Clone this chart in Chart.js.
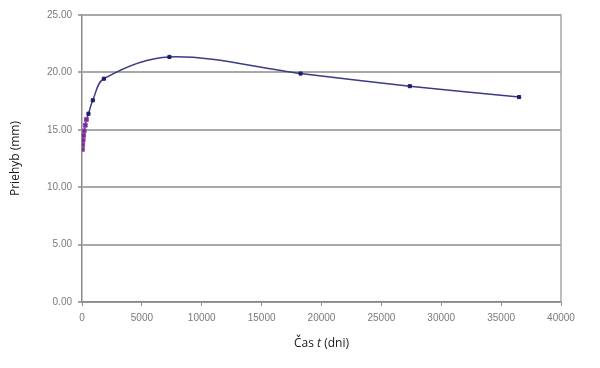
<!DOCTYPE html>
<html>
<head>
<meta charset="utf-8">
<script src="https://cdn.jsdelivr.net/npm/chart.js@4"></script>
<style>
html,body{margin:0;padding:0;background:#fff;}
#wrap{width:600px;height:368px;}
</style>
</head>
<body>
<div id="wrap"><canvas id="c" width="600" height="368"></canvas></div>
<script>
// Data
const days = [28, 56, 90, 120, 180, 270, 365, 540, 900, 1825, 7300, 18250, 27375, 36500];
const deflection = [13.3, 13.7, 14.1, 14.5, 14.9, 15.4, 15.9, 16.4, 17.57, 19.45, 21.35, 19.9, 18.8, 17.85];
const yTicks = [0, 5, 10, 15, 20, 25];
const xTicks = [0, 5000, 10000, 15000, 20000, 25000, 30000, 35000, 40000];
const yTitle = 'Priehyb (mm)';
const xTitleParts = ['Čas ', 't', ' (dni)'];

const points = days.map((d, i) => ({x: d, y: deflection[i]}));

const borderPlugin = {
  id: 'areaBorder',
  afterDraw(chart) {
    const {ctx, chartArea: a} = chart;
    ctx.save();
    ctx.strokeStyle = '#a8a8a8';
    ctx.lineWidth = 1.5;
    ctx.beginPath();
    ctx.moveTo(a.left, a.top);
    ctx.lineTo(a.right, a.top);
    ctx.lineTo(a.right, a.bottom);
    ctx.stroke();
    // x title with italic t
    const cx = (a.left + a.right) / 2;
    const y = 344;
    const fN = '12px "Open Sans", "DejaVu Sans", sans-serif';
    const fI = 'italic 12px "Open Sans", "DejaVu Sans", sans-serif';
    ctx.font = fN; const w0 = ctx.measureText(xTitleParts[0]).width;
    const w2 = ctx.measureText(xTitleParts[2]).width;
    ctx.font = fI; const w1 = ctx.measureText(xTitleParts[1]).width;
    let x = cx - (w0 + w1 + w2) / 2;
    ctx.fillStyle = '#1a1a1a';
    ctx.textBaseline = 'middle';
    ctx.textAlign = 'left';
    ctx.font = fN; ctx.fillText(xTitleParts[0], x, y); x += w0;
    ctx.font = fI; ctx.fillText(xTitleParts[1], x, y); x += w1;
    ctx.font = fN; ctx.fillText(xTitleParts[2], x, y);
    ctx.restore();
  }
};

new Chart(document.getElementById('c'), {
  type: 'line',
  data: {
    datasets: [{
      data: points,
      borderColor: '#3a3a86',
      borderWidth: 1.5,
      tension: 0.35,
      pointStyle: 'rect',
      pointRadius: days.map(d => d < 400 ? 2.8 : 2.2),
      pointBackgroundColor: days.map(d => d < 400 ? '#6b2d8f' : '#1e1e6e'),
      pointBorderColor: days.map(d => d < 400 ? '#9a4aa8' : '#1e1e6e'),
      pointBorderWidth: 1
    }]
  },
  options: {
    responsive: false,
    animation: false,
    layout: {padding: {left: 0, right: 39, top: 15, bottom: 0}},
    plugins: {legend: {display: false}, tooltip: {enabled: false}},
    scales: {
      x: {
        type: 'linear',
        min: 0, max: 40000,
        afterFit(s) { s.height = 66; },
        afterBuildTicks(s) { s.ticks = xTicks.map(v => ({value: v})); },
        border: {color: '#8a8a8a', width: 1.5},
        grid: {display: true, drawOnChartArea: false, color: '#8a8a8a', tickLength: 4},
        ticks: {
          color: '#7a7a7a',
          font: {size: 10, family: '"Liberation Sans", Arial, sans-serif'},
          padding: 6,
          maxRotation: 0,
          callback: v => String(v)
        }
      },
      y: {
        min: 0, max: 25,
        afterFit(s) { s.width = 82; },
        afterBuildTicks(s) { s.ticks = yTicks.map(v => ({value: v})); },
        border: {color: '#8a8a8a', width: 1.5},
        grid: {color: '#a8a8a8', lineWidth: 2, tickLength: 4, drawTicks: true},
        ticks: {
          color: '#7a7a7a',
          font: {size: 10, family: '"Liberation Sans", Arial, sans-serif'},
          padding: 6,
          callback: v => Number(v).toFixed(2)
        },
        title: {
          display: true,
          text: yTitle,
          color: '#1a1a1a',
          font: {size: 12, family: '"Open Sans", "DejaVu Sans", sans-serif'},
          padding: {top: 8, bottom: 12}
        }
      }
    }
  },
  plugins: [borderPlugin]
});
</script>
</body>
</html>
